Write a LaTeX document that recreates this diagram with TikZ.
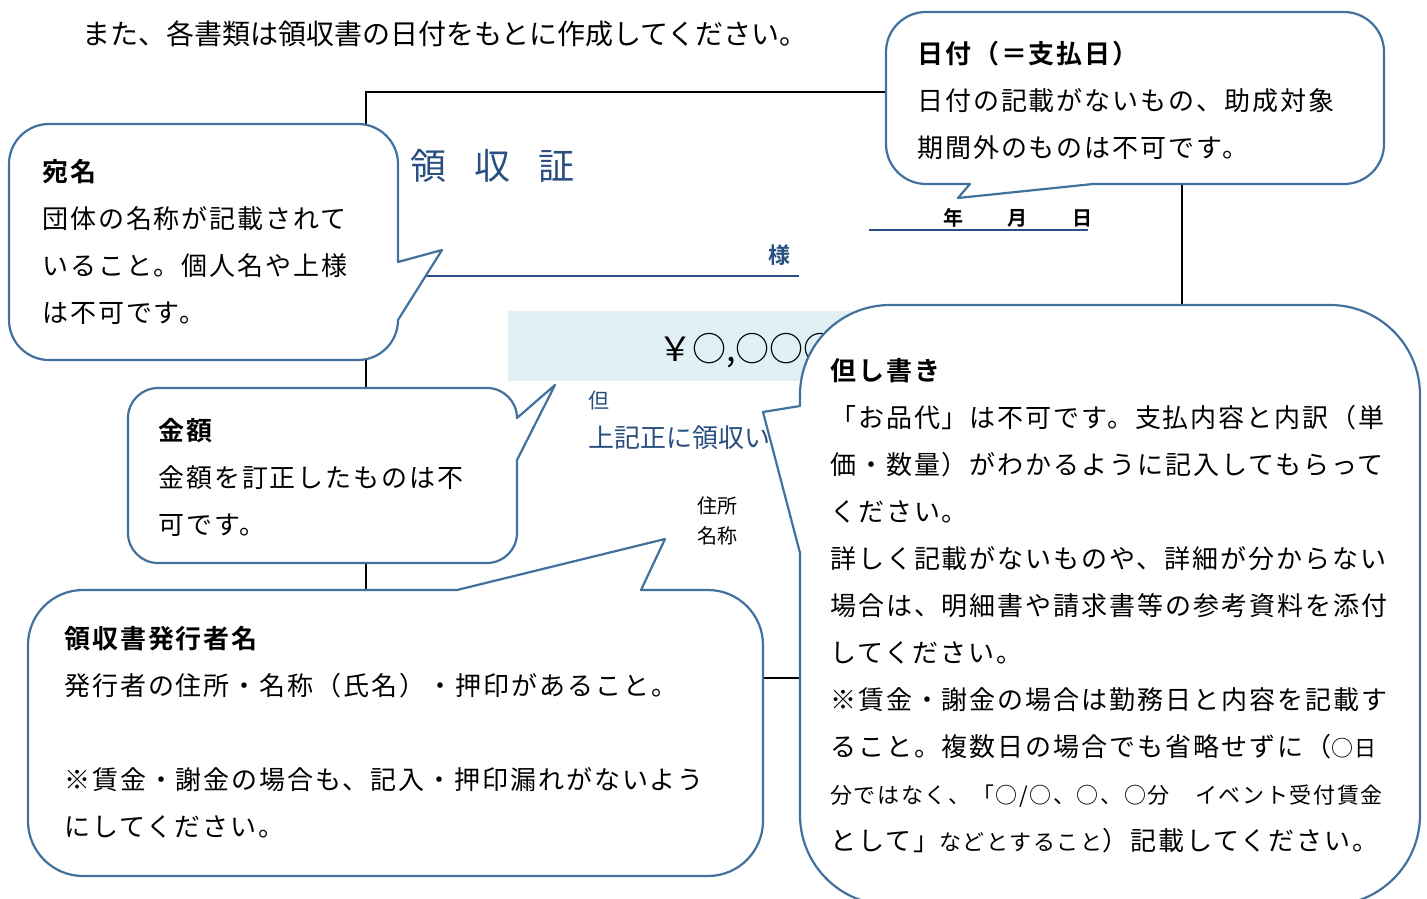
\documentclass[tikz,border=0pt]{standalone}
\usepackage{fontspec}
\newfontfamily\jp{Noto Sans CJK JP}[LetterSpace=7.5,BoldFont={* Bold}]
\newfontfamily\jpn{Noto Sans CJK JP}[BoldFont={* Bold}]
\definecolor{lineblue}{RGB}{65,113,156}
\definecolor{inkblue}{RGB}{41,78,128}
\definecolor{tint}{RGB}{224,240,245}
\tikzstyle{bubble} = [draw=lineblue, fill=white, line width=2.2pt, line join=round]
\tikzstyle{note} = [anchor=base west, inner sep=0pt, align=left,
    font={\jp\fontsize{26}{47}\selectfont}]
\tikzstyle{ink} = [anchor=base west, inner sep=0pt, text=inkblue]
\tikzstyle{plain} = [anchor=base west, inner sep=0pt]
\newcommand\smtxt[1]{{\fontsize{22}{47}\selectfont #1}}

\begin{document}
\begin{tikzpicture}[x=1pt,y=-1pt]
  \useasboundingbox (0,0) rectangle (1427,899);

  \node[plain,font={\jpn\fontsize{28}{34}\selectfont}] (intro) at (82,45)
       {また、各書類は領収書の日付をもとに作成してください。};

  % receipt
  \draw[line width=1.8pt] (366,92) rectangle (1182,678);
  \fill[tint] (508,311) rectangle (1000,381);
  \node[ink,font={\jpn\fontsize{36}{40}\selectfont}] (title) at (410,179)
       {領\hspace{28pt}収\hspace{28pt}証};
  \node[ink,font={\jpn\bfseries\fontsize{22}{26}\selectfont}] (sama) at (768,263) {様};
  \draw[inkblue,line width=2.2pt] (400,276) -- (799,276);
  \node[plain,font={\jpn\bfseries\fontsize{20}{24}\selectfont}] (date) at (943,225)
       {年\hspace{44pt}月\hspace{45pt}日};
  \draw[inkblue,line width=2.2pt] (869,230) -- (1088,230);
  \node[plain,font={\jpn\fontsize{34}{40}\selectfont}] (amount) at (658,361) {￥○,○○○};
  \node[ink,font={\jpn\fontsize{21}{24}\selectfont}] (tadashi) at (588,408) {但};
  \node[ink,font={\jpn\fontsize{26}{30}\selectfont}] (received) at (588,447) {上記正に領収いた};
  \node[plain,align=left,font={\jpn\fontsize{20}{30}\selectfont}] (issuer) at (697,543)
       {住所\\名称};

  % callouts
  \coordinate (atip) at (442,250);
  \coordinate (btip) at (555,385);
  \coordinate (ctip) at (665,539);
  \coordinate (dtip) at (958,198);
  \coordinate (etip) at (763,412);

  \draw[bubble] (49,124) -- (358,124) arc[start angle=-90,end angle=0,radius=40]
    -- (398,262) -- (atip) -- (398,320) arc[start angle=0,end angle=90,radius=40]
    -- (49,360) arc[start angle=90,end angle=180,radius=40]
    -- (9,164) arc[start angle=180,end angle=270,radius=40] -- cycle;
  \draw[bubble] (158,388) -- (487,388) arc[start angle=-90,end angle=0,radius=30]
    -- (btip) -- (517,460) -- (517,533) arc[start angle=0,end angle=90,radius=30]
    -- (158,563) arc[start angle=90,end angle=180,radius=30]
    -- (128,418) arc[start angle=180,end angle=270,radius=30] -- cycle;
  \draw[bubble] (83,590) -- (457,590) -- (ctip) -- (641,590)
    -- (708,590) arc[start angle=-90,end angle=0,radius=55]
    -- (763,821) arc[start angle=0,end angle=90,radius=55]
    -- (83,876) arc[start angle=90,end angle=180,radius=55]
    -- (28,645) arc[start angle=180,end angle=270,radius=55] -- cycle;
  \draw[bubble] (926,12) -- (1344,12) arc[start angle=-90,end angle=0,radius=40]
    -- (1384,144) arc[start angle=0,end angle=90,radius=40]
    -- (1093,184) -- (dtip) -- (970,184)
    -- (926,184) arc[start angle=90,end angle=180,radius=40]
    -- (886,52) arc[start angle=180,end angle=270,radius=40] -- cycle;
  \draw[bubble] (890,305) -- (1330,305) arc[start angle=-90,end angle=0,radius=90]
    -- (1420,815) arc[start angle=0,end angle=90,radius=90]
    -- (890,905) arc[start angle=90,end angle=180,radius=90]
    -- (800,553) -- (etip) -- (800,406)
    -- (800,395) arc[start angle=180,end angle=270,radius=90] -- cycle;

  % the base of a note is the baseline of its last line
  \node[note] (atena) at (42,322)
       {\textbf{宛名}\\団体の名称が記載されて\\いること。個人名や上様\\は不可です。};
  \node[note] (kingaku) at (158,534)
       {\textbf{金額}\\金額を訂正したものは不\\可です。};
  \node[note] (hakko) at (64,836)
       {\textbf{領収書発行者名}\\発行者の住所・名称（氏名）・押印があること。\\[47pt]%
        ※賃金・謝金の場合も、記入・押印漏れがないよう\\にしてください。};
  \node[note] (hizuke) at (917,157)
       {\textbf{日付（＝支払日）}\\日付の記載がないもの、助成対象\\期間外のものは不可です。};
  \node[note] (tadashigaki) at (830,850)
       {\textbf{但し書き}\\「お品代」は不可です。支払内容と内訳（単\\%
        価・数量）がわかるように記入してもらって\\ください。\\%
        詳しく記載がないものや、詳細が分からない\\%
        場合は、明細書や請求書等の参考資料を添付\\してください。\\%
        ※賃金・謝金の場合は勤務日と内容を記載す\\%
        ること。複数日の場合でも省略せずに（\smtxt{○日}\\%
        \smtxt{分ではなく、「○/○、○、○分　イベント受付賃金}\\%
        として」\smtxt{などとすること}）記載してください。};
\end{tikzpicture}
\end{document}
